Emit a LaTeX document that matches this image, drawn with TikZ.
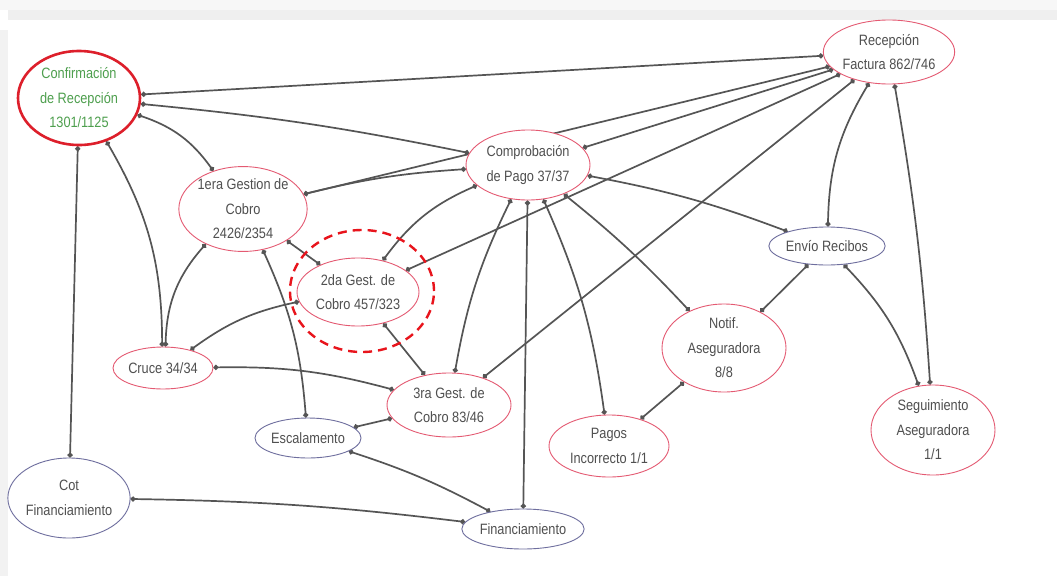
\documentclass[tikz,border=0pt]{standalone}
\usepackage{fontspec}
\setmainfont{Liberation Sans}[FakeStretch=0.85]
\usetikzlibrary{shapes.geometric,arrows.meta}

\definecolor{edgegray}{HTML}{555555}
\definecolor{txtgray}{HTML}{505050}
\definecolor{redline}{HTML}{E45A72}
\definecolor{blueline}{HTML}{6E6E9E}
\definecolor{confred}{HTML}{DD1F2B}
\definecolor{confgreen}{HTML}{4E9F4E}
\definecolor{markred}{HTML}{E8141C}
\definecolor{topband}{HTML}{F7F7F7}
\definecolor{topband2}{HTML}{EFEFEF}
\definecolor{sideband}{HTML}{F2F2F2}

\pgfdeclarelayer{backdrop}
\pgfdeclarelayer{links}
\pgfsetlayers{backdrop,links,main}

\begin{document}
\begin{tikzpicture}[x=1pt,y=1pt,
  state/.style={ellipse, draw=redline, line width=0.9pt, fill=white, inner sep=0pt,
    align=center, text=txtgray, font=\fontsize{15}{24.5}\selectfont},
  bluestate/.style={state, draw=blueline},
  link/.style={draw=edgegray, line width=1.7pt,
    {Circle[length=5pt]}-{Circle[length=5pt]}},
]
% canvas and window bands
\begin{pgfonlayer}{backdrop}
\fill[white] (0,0) rectangle (1057,-576);
\fill[topband] (0,0) rectangle (1057,-10);
\fill[topband2] (8,-10) rectangle (1057,-20);
\fill[sideband] (0,-30) rectangle (8,-576);
\end{pgfonlayer}
\useasboundingbox (0,0) rectangle (1057,-576);

% states
\node[state, draw=confred, line width=2.6pt, text=confgreen,
      minimum width=122pt, minimum height=94pt] (conf) at (79,-98)
      {Confirmación\\de Recepción\\1301/1125};
\node[state, minimum width=124pt, minimum height=64pt] (rf) at (889,-52)
      {Recepción\\Factura 862/746};
\node[state, minimum width=124pt, minimum height=70pt] (comp) at (528,-165)
      {Comprobación\\de Pago 37/37};
\node[state, minimum width=126pt, minimum height=82pt] (g1) at (243,-209)
      {1era Gestion de\\Cobro\\2426/2354};
\node[state, minimum width=122pt, minimum height=68pt] (g2) at (358,-292)
      {2da Gest. de\\Cobro 457/323};
\node[state, minimum width=100pt, minimum height=42pt] (cruce) at (163,-368)
      {Cruce 34/34};
\node[state, minimum width=124pt, minimum height=64pt] (g3) at (449,-405)
      {3ra Gest. de\\Cobro 83/46};
\node[bluestate, minimum width=106pt, minimum height=40pt] (esc) at (308,-438)
      {Escalamento};
\node[bluestate, minimum width=122pt, minimum height=80pt] (cot) at (69,-498)
      {Cot\\Financiamiento};
\node[bluestate, minimum width=114pt, minimum height=40pt] (fin) at (523,-529)
      {Financiamiento};
\node[state, minimum width=120pt, minimum height=62pt] (pagos) at (609,-446)
      {Pagos\\Incorrecto 1/1};
\node[state, minimum width=124pt, minimum height=88pt] (notif) at (724,-348)
      {Notif.\\Aseguradora\\8/8};
\node[bluestate, minimum width=110pt, minimum height=38pt] (envio) at (827,-246)
      {Envío Recibos};
\node[state, minimum width=124pt, minimum height=90pt] (seg) at (933,-430)
      {Seguimiento\\Aseguradora\\1/1};

% highlight around the second collection step
\node[ellipse, draw=markred, line width=2.4pt, dash pattern=on 9pt off 6pt,
      minimum width=144pt, minimum height=122pt] (focus) at (362,-291) {};

% transitions
\begin{pgfonlayer}{links}
\draw[link] (conf) -- (rf);
\draw[link] (conf) to[bend left=3] (comp);
\draw[link] (conf) to[bend left=18] (g1);
\draw[link] (conf) -- (cot);
\draw[link] (conf) to[bend left=15] (cruce);
\draw[link] (g1) -- (rf);
\draw[link] (g1) to[bend left=5] (comp);
\draw[link] (g1) -- (g2);
\draw[link] (g1) to[bend right=20] (cruce);
\draw[link] (g1) to[bend left=10] (esc);
\draw[link] (comp) -- (rf);
\draw[link] (comp) to[bend right=15] (g2);
\draw[link] (g2) -- (rf);
\draw[link] (comp) to[bend right=8] (g3);
\draw[link] (comp) -- (fin);
\draw[link] (comp) to[bend left=8] (pagos);
\draw[link] (comp) to[bend left=4] (notif);
\draw[link] (comp) to[bend left=5] (envio);
\draw[link] (g3) -- (rf);
\draw[link] (rf) to[bend right=15] (envio);
\draw[link] (rf) to[bend left=3] (seg);
\draw[link] (envio) -- (notif);
\draw[link] (envio) to[bend left=12] (seg);
\draw[link] (notif) -- (pagos);
\draw[link] (g2) to[bend right=12] (cruce);
\draw[link] (g2) -- (g3);
\draw[link] (cruce) to[bend left=8] (g3);
\draw[link] (esc) -- (g3);
\draw[link] (esc) to[bend left=5] (fin);
\draw[link] (cot) to[bend left=3] (fin);
\end{pgfonlayer}
\end{tikzpicture}
\end{document}
